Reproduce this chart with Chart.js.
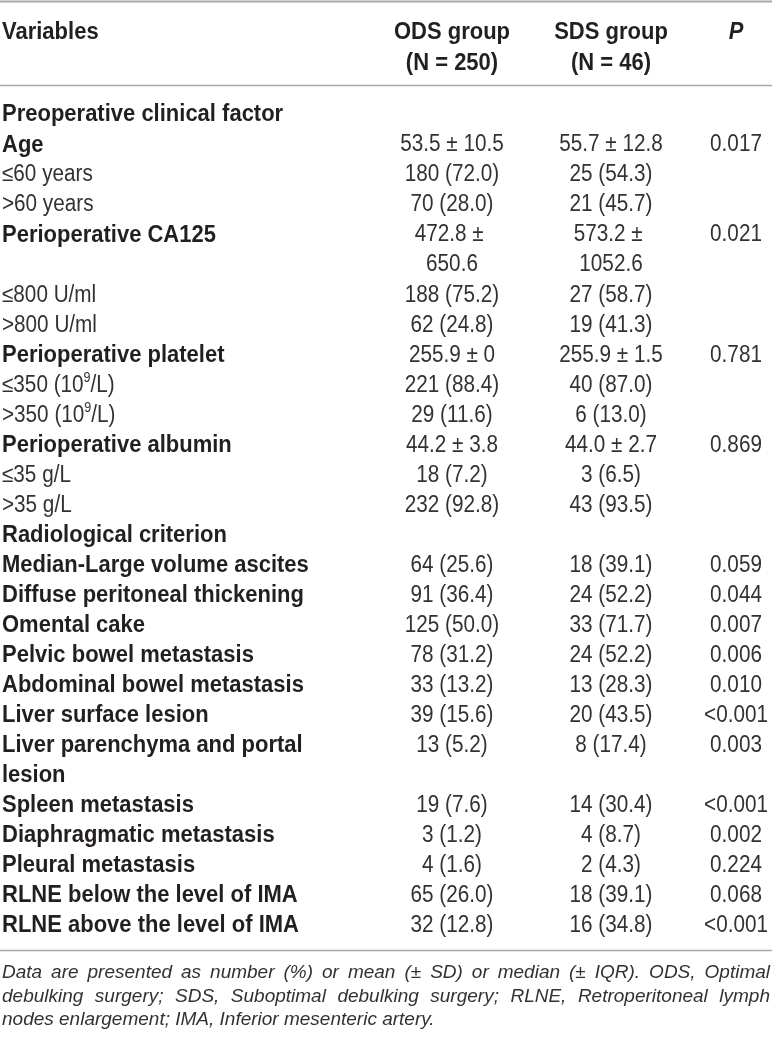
<!DOCTYPE html>
<html>
<head>
<meta charset="utf-8">
<script src="https://cdn.jsdelivr.net/npm/chart.js@4.4.1/dist/chart.umd.min.js"></script>
<style>
    html, body { margin: 0; padding: 0; background: #ffffff; }
    #wrap { width: 772px; height: 1040px; position: relative; }
</style>
</head>
<body>
<div id="wrap"><canvas id="tableChart"></canvas></div>
<script>
// === table content ===
const headerTop = ["Variables", "ODS group", "SDS group", "P"];
const headerBottom = ["", "(N = 250)", "(N = 46)", ""];

const variables = [
    "Preoperative clinical factor",
    "Age",
    "≤60 years",
    ">60 years",
    "Perioperative CA125",
    "",
    "≤800 U/ml",
    ">800 U/ml",
    "Perioperative platelet",
    "≤350 (10^9/L)",
    ">350 (10^9/L)",
    "Perioperative albumin",
    "≤35 g/L",
    ">35 g/L",
    "Radiological criterion",
    "Median-Large volume ascites",
    "Diffuse peritoneal thickening",
    "Omental cake",
    "Pelvic bowel metastasis",
    "Abdominal bowel metastasis",
    "Liver surface lesion",
    "Liver parenchyma and portal",
    "lesion",
    "Spleen metastasis",
    "Diaphragmatic metastasis",
    "Pleural metastasis",
    "RLNE below the level of IMA",
    "RLNE above the level of IMA"
];

const odsValues = [
    "", "53.5 ± 10.5", "180 (72.0)", "70 (28.0)", "472.8 ± ", "650.6",
    "188 (75.2)", "62 (24.8)", "255.9 ± 0", "221 (88.4)", "29 (11.6)",
    "44.2 ± 3.8", "18 (7.2)", "232 (92.8)", "",
    "64 (25.6)", "91 (36.4)", "125 (50.0)", "78 (31.2)", "33 (13.2)",
    "39 (15.6)", "13 (5.2)", "", "19 (7.6)", "3 (1.2)", "4 (1.6)",
    "65 (26.0)", "32 (12.8)"
];

const sdsValues = [
    "", "55.7 ± 12.8", "25 (54.3)", "21 (45.7)", "573.2 ± ", "1052.6",
    "27 (58.7)", "19 (41.3)", "255.9 ± 1.5", "40 (87.0)", "6 (13.0)",
    "44.0 ± 2.7", "3 (6.5)", "43 (93.5)", "",
    "18 (39.1)", "24 (52.2)", "33 (71.7)", "24 (52.2)", "13 (28.3)",
    "20 (43.5)", "8 (17.4)", "", "14 (30.4)", "4 (8.7)", "2 (4.3)",
    "18 (39.1)", "16 (34.8)"
];

const pValues = [
    "", "0.017", "", "", "0.021", "", "", "", "0.781", "", "",
    "0.869", "", "", "",
    "0.059", "0.044", "0.007", "0.006", "0.010",
    "<0.001", "0.003", "", "<0.001", "0.002", "0.224",
    "0.068", "<0.001"
];

const footnoteLines = [
    "Data are presented as number (%) or mean (± SD) or median (± IQR). ODS, Optimal",
    "debulking surgery; SDS, Suboptimal debulking surgery; RLNE, Retroperitoneal lymph",
    "nodes enlargement; IMA, Inferior mesenteric artery."
];

// === layout / style ===
const boldRows = [0, 1, 4, 8, 11, 14, 15, 16, 17, 18, 19, 20, 21, 22, 23, 24, 25, 26, 27];
const columnX = [2, 452, 611, 736];           // x-scale values of the four columns
const columnAlign = ["left", "center", "center", "center"];
const headerRowPos = [-2.76, -1.73];         // y-scale values (row units)
const rulePos = [-3.72, -0.93, 27.86];
const footnotePos = [28.58, 29.38, 30.14];
const footLeft = 2, footRight = 770;

const TEXT = "#231f20";
const TEXT_LIGHT = "#333132";
const RULE = "#a8a8a8";
const FAMILY = "'Liberation Sans', Arial, Helvetica, sans-serif";
// k = horizontal squeeze, to get the tall narrow look of the original face
const BOLD = { size: 23.5, k: 0.936, weight: "bold", color: TEXT };
const BOLD_IT = { size: 23.5, k: 0.936, weight: "italic bold", color: TEXT };
const REG = { size: 23, k: 0.9, weight: "", color: TEXT_LIGHT };
const ITAL = { size: 19, k: 1, weight: "italic", color: TEXT_LIGHT };

const fontOf = (style, size) => `${style.weight} ${size}px ${FAMILY}`.trim();

function drawRich(ctx, text, x, yMid, align, style) {
    const parts = text.split(/\^(\S)/);
    const supSize = Math.round(style.size * 0.62);
    const widths = parts.map((p, i) => {
        ctx.font = fontOf(style, i % 2 ? supSize : style.size);
        return ctx.measureText(p).width * style.k;
    });
    const total = widths.reduce((a, b) => a + b, 0);
    let cx = align === "left" ? x : align === "right" ? x - total : x - total / 2;
    const base = yMid + style.size * 0.36;
    ctx.textAlign = "left";
    ctx.textBaseline = "alphabetic";
    ctx.fillStyle = style.color;
    parts.forEach((p, i) => {
        const sup = i % 2 === 1;
        ctx.font = fontOf(style, sup ? supSize : style.size);
        ctx.save();
        ctx.translate(cx, sup ? base - style.size * 0.4 : base);
        ctx.scale(style.k, 1);
        ctx.fillText(p, 0, 0);
        ctx.restore();
        cx += widths[i];
    });
}

function drawJustified(ctx, line, left, right, yMid, style, justify) {
    ctx.font = fontOf(style, style.size);
    ctx.fillStyle = style.color;
    ctx.textAlign = "left";
    ctx.textBaseline = "alphabetic";
    const base = yMid + style.size * 0.36;
    if (!justify) {
        ctx.fillText(line, left, base);
        return;
    }
    const words = line.split(" ");
    const widths = words.map(w => ctx.measureText(w).width);
    const sum = widths.reduce((a, b) => a + b, 0);
    const gap = (right - left - sum) / (words.length - 1);
    let cx = left;
    words.forEach((w, i) => {
        ctx.fillText(w, cx, base);
        cx += widths[i] + gap;
    });
}

const tableText = {
    id: "tableText",
    afterDatasetsDraw(chart) {
        const { ctx, chartArea, scales: { x, y } } = chart;
        ctx.save();

        // rules
        ctx.strokeStyle = RULE;
        rulePos.forEach((r, i) => {
            const py = Math.round(y.getPixelForValue(r)) + 0.5;
            ctx.lineWidth = i === 0 ? 2 : 1.5;
            ctx.beginPath();
            ctx.moveTo(chartArea.left, py);
            ctx.lineTo(chartArea.right, py);
            ctx.stroke();
        });

        // header
        [headerTop, headerBottom].forEach((row, r) => {
            row.forEach((t, c) => {
                if (!t) return;
                drawRich(ctx, t, x.getPixelForValue(columnX[c]),
                    y.getPixelForValue(headerRowPos[r]), columnAlign[c], c === 3 ? BOLD_IT : BOLD);
            });
        });

        // body cells, placed on the dataset points
        const columns = [variables, odsValues, sdsValues, pValues];
        columns.forEach((col, c) => {
            const meta = chart.getDatasetMeta(c);
            meta.data.forEach((pt, i) => {
                const t = col[i];
                if (!t) return;
                const style = c === 0 && boldRows.includes(i) ? BOLD : REG;
                drawRich(ctx, t, pt.x, pt.y, columnAlign[c], style);
            });
        });

        // footnote
        footnoteLines.forEach((line, i) => {
            drawJustified(ctx, line, x.getPixelForValue(footLeft), x.getPixelForValue(footRight),
                y.getPixelForValue(footnotePos[i]), ITAL, i < footnoteLines.length - 1);
        });

        ctx.restore();
    }
};

const rowIndex = variables.map((_, i) => i);

new Chart(document.getElementById("tableChart"), {
    type: "scatter",
    data: {
        datasets: [variables, odsValues, sdsValues, pValues].map((col, c) => ({
            label: headerTop[c],
            data: rowIndex.map(i => ({ x: columnX[c], y: i })),
            pointRadius: 0,
            pointHoverRadius: 0
        }))
    },
    options: {
        responsive: true,
        maintainAspectRatio: false,
        animation: false,
        events: [],
        layout: { padding: { top: 98, bottom: 101, left: 0, right: 0 } },
        scales: {
            x: { type: "linear", min: 0, max: 772, display: false },
            y: { type: "linear", min: -0.5, max: variables.length - 0.5, reverse: true, display: false }
        },
        plugins: {
            legend: { display: false },
            tooltip: { enabled: false }
        }
    },
    plugins: [tableText]
});
</script>
</body>
</html>
